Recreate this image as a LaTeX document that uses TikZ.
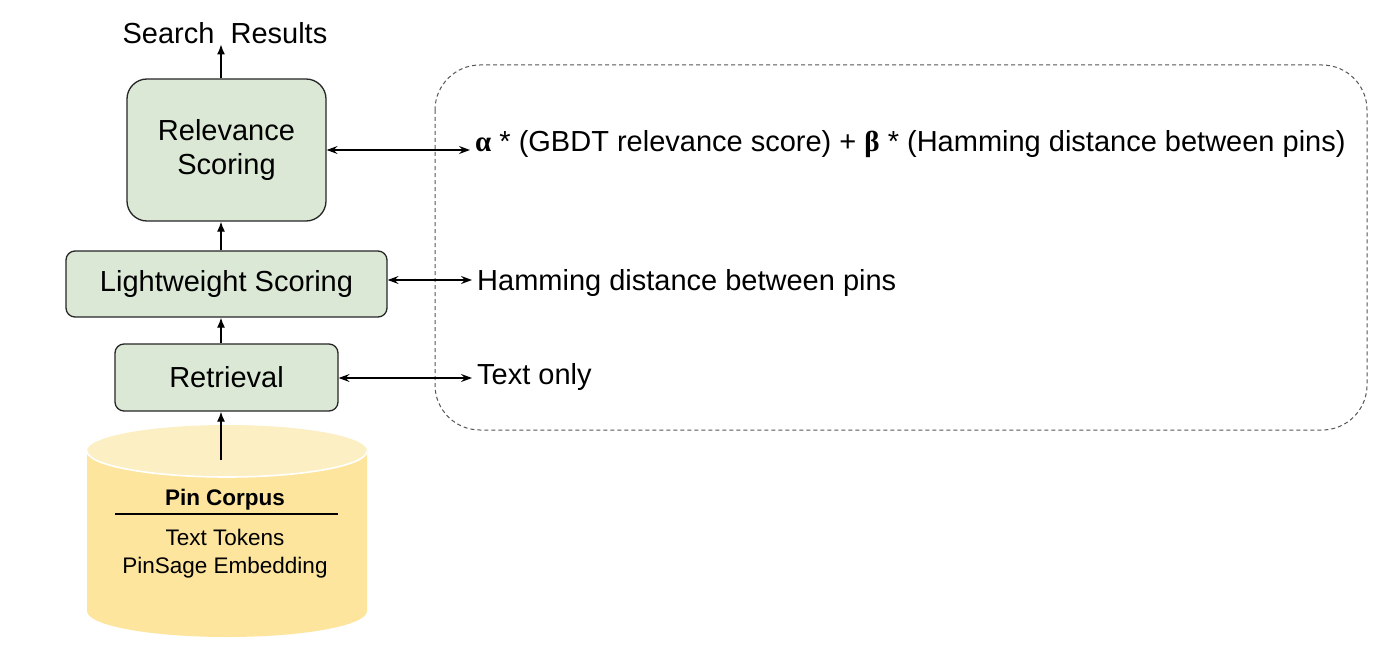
\documentclass[tikz,border=0pt]{standalone}
\usepackage{fontspec}
\setmainfont{Liberation Sans}
\newfontfamily\serifgr{Liberation Serif}
\usetikzlibrary{arrows.meta}
\definecolor{boxgreen}{HTML}{DAE8D5}
\definecolor{dbtopc}{HTML}{FDEFC4}
\definecolor{dbbody}{HTML}{FDE59E}
\definecolor{dashgray}{HTML}{555555}
\begin{document}
\begin{tikzpicture}[x=1pt,y=-1pt,
  stagebox/.style={draw=black!85, line width=1.3pt, fill=boxgreen, align=center,
    font=\fontsize{29}{34}\selectfont, inner sep=0pt},
  upar/.style={line width=1.3pt, -{Latex[length=10pt,width=8pt]}},
  dblar/.style={line width=1.1pt, {Stealth[length=11pt,width=8pt,inset=4pt]}-{Stealth[length=11pt,width=8pt,inset=4pt]}},
  sidetxt/.style={anchor=base west, inner xsep=5pt, inner ysep=0pt, font=\fontsize{29}{34}\selectfont},
  dbtxt/.style={anchor=base, inner sep=0pt, font=\fontsize{22.5}{28}\selectfont}
]
\useasboundingbox (0,0) rectangle (1400,666);
\fill[white] (0,0) rectangle (1400,666);

% dashed group
\draw[dashgray, line width=1pt, dash pattern=on 4pt off 3pt, rounded corners=45pt] (435,65) rectangle (1367,430);

% column axis
\coordinate (axis) at (221,0);

% stages
\node[stagebox, minimum width=199pt, minimum height=142pt, rounded corners=20pt] (rel) at (226.5,150) {\raisebox{-3pt}{Relevance}\\\raisebox{-3pt}{Scoring}};
\node[stagebox, minimum width=321pt, minimum height=66pt, rounded corners=9pt] (light) at (226.5,284) {\raisebox{-2pt}{Lightweight Scoring}};
\node[stagebox, minimum width=223pt, minimum height=67pt, rounded corners=9pt] (ret) at (226.5,377.5) {Retrieval};

\node[anchor=base, inner sep=0pt, font=\fontsize{29}{34}\selectfont] (sr) at (225,44) {Search\ \ Results};

% cylinder
\fill[dbbody] (87,451) -- (87,611) arc[x radius=140, y radius=26, start angle=180, end angle=0] -- (367,451) -- cycle;
\fill[dbtopc] (227,451) ellipse [x radius=140, y radius=26];
\draw[white, line width=1.6pt] (87,451) arc[x radius=140, y radius=26, start angle=180, end angle=0];
\coordinate (dbtop) at (221,460);
\node[dbtxt, font=\fontsize{22.5}{28}\selectfont\bfseries] (pc) at (225,505) {Pin Corpus};
\coordinate (divl) at (115,514);
\coordinate (divr) at (338,514);
\draw[line width=2.5pt] (divl) -- (divr);
\node[dbtxt] (tt) at (225,545) {Text Tokens};
\node[dbtxt] (pe) at (225,573) {PinSage Embedding};

% vertical flow
\draw[upar] (dbtop) -- (ret.south -| axis);
\draw[upar] (ret.north -| axis) -- (light.south -| axis);
\draw[upar] (light.north -| axis) -- (rel.south -| axis);
\draw[upar] (rel.north -| axis) -- (sr.south -| axis);

% side texts
\node[sidetxt] (t1) at (470,152) {{\serifgr\bfseries α} * (GBDT relevance score) + {\serifgr\bfseries β} * (Hamming distance between pins)};
\node[sidetxt] (t2) at (472,290) {Hamming distance between pins};
\node[sidetxt] (t3) at (472,384) {Text only};

\draw[dblar] (rel.east) -- (t1.west |- rel.east);
\draw[dblar] (light.east |- 0,280) -- (t2.west |- 0,280);
\draw[dblar] (ret.east |- 0,378) -- (t3.west |- 0,378);
\end{tikzpicture}
\end{document}
